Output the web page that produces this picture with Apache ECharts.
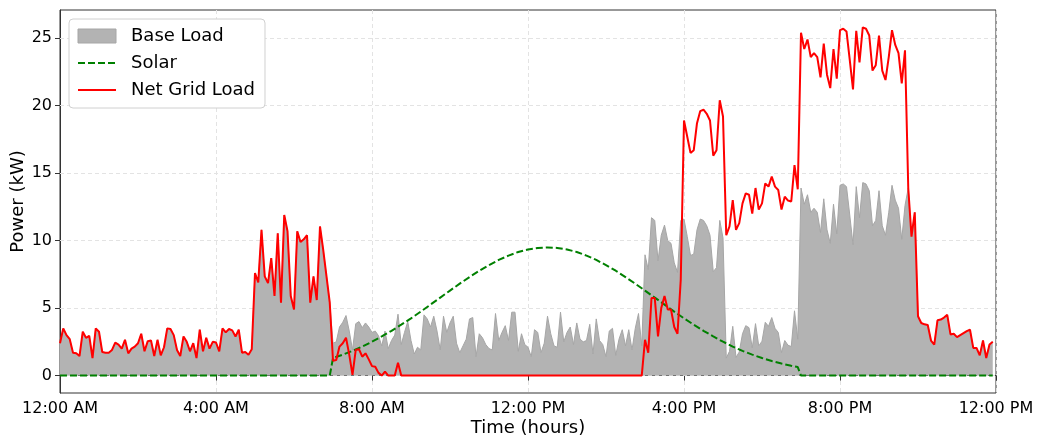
<!DOCTYPE html>
<html><head><meta charset="utf-8">
<script src="https://cdn.jsdelivr.net/npm/echarts@6/dist/echarts.min.js"></script>
<style>html,body{margin:0;padding:0;background:#fff}#c{width:1037px;height:437px}</style>
</head><body><div id="c"></div>
<script>
// 5-minute samples, 00:00 .. 23:55
const stepMinutes = 5;
const baseLoad = [
 2.4,3.5,3.0,2.7,1.7,1.65,1.45,3.25,2.8,2.95,
 1.3,3.5,3.25,1.75,1.7,1.7,1.9,2.45,2.3,2.0,
 2.65,1.65,2.0,2.15,2.4,3.1,1.8,2.55,2.6,1.45,
 2.65,1.5,2.1,3.5,3.45,3.0,1.9,1.45,2.9,2.5,
 1.8,2.4,1.3,3.4,1.8,2.8,2.0,2.5,2.45,1.8,
 3.5,3.2,3.45,3.35,2.9,3.4,1.7,1.75,1.55,1.95,
 7.6,6.9,10.8,7.35,6.85,8.7,5.9,10.55,5.4,11.9,
 10.7,5.9,4.9,10.7,9.9,10.1,10.4,5.4,7.35,5.6,
 11.05,9.3,7.35,5.4,
 2.4,2.5,3.6,3.95,4.45,3.3,1.9,3.85,4.0,3.55,
 3.9,3.6,3.2,3.3,2.95,2.2,3.3,2.0,2.6,3.0,4.55,
 2.3,3.2,4.0,2.6,1.6,
 2.1,1.9,4.5,4.2,3.6,4.4,3.3,1.9,4.4,3.2,
 3.9,4.4,2.4,1.7,2.2,2.7,4.2,4.3,1.4,3.1,
 2.8,2.3,2.0,1.9,4.6,2.6,3.2,3.7,2.6,4.7,
 4.7,1.8,3.1,2.3,2.1,1.4,3.4,3.2,1.7,2.4,
 4.4,3.1,2.2,2.1,4.7,2.5,3.2,3.6,2.3,3.9,
 2.7,2.5,2.6,3.8,1.6,4.2,2.6,2.3,1.4,3.3,
 3.5,1.5,2.7,3.4,2.2,3.4,1.9,3.5,4.6,2.2,
 8.95,7.85,11.7,11.5,8.5,10.4,11.15,10.0,9.8,8.35,7.65,11.5,
 11.6,10.3,8.9,9.0,10.8,11.6,11.5,11.1,10.4,7.7,8.0,11.5,10.2,1.3,
 1.8,3.65,1.35,1.75,3.1,3.7,3.55,2.05,3.85,2.2,2.55,3.95,3.65,4.3,3.5,3.2,1.7,2.6,2.25,2.15,4.8,2.7,
 13.9,12.7,13.4,12.1,12.4,12.1,10.6,13.1,10.8,9.8,12.7,10.5,14.1,14.2,14.0,11.9,9.7,14.0,
 11.7,14.3,14.2,13.7,11.1,11.5,13.7,11.1,10.4,12.1,14.1,13.0,12.4,10.1,12.6,13.9,10.3,12.1,
 4.4,3.9,3.8,3.75,2.6,2.3,4.1,4.15,4.3,4.5,3.05,3.1,2.85,3.0,3.15,3.3,3.4,2.05,2.05,1.5,2.6,1.3,2.3,2.5
];
const netGridLoad = [
 2.4,3.5,3.0,2.7,1.7,1.65,1.45,3.25,2.8,2.95,
 1.3,3.5,3.25,1.75,1.7,1.7,1.9,2.45,2.3,2.0,
 2.65,1.65,2.0,2.15,2.4,3.1,1.8,2.55,2.6,1.45,
 2.65,1.5,2.1,3.5,3.45,3.0,1.9,1.45,2.9,2.5,
 1.8,2.4,1.3,3.4,1.8,2.8,2.0,2.5,2.45,1.8,
 3.5,3.2,3.45,3.35,2.9,3.4,1.7,1.75,1.55,1.95,
 7.6,6.9,10.8,7.35,6.85,8.7,5.9,10.55,5.4,11.9,
 10.7,5.9,4.9,10.7,9.9,10.1,10.4,5.4,7.35,5.6,
 11.05,9.3,7.35,5.4,
 1.1,1.15,2.15,2.4,2.8,1.55,0.05,1.9,1.95,1.4,
 1.65,1.2,0.7,0.65,0.2,0,0.3,0,0,0,0.95,
 0,0,0,0,0,
 0,0,0,0,0,0,0,0,0,0,
 0,0,0,0,0,0,0,0,0,0,
 0,0,0,0,0,0,0,0,0,0,
 0,0,0,0,0,0,0,0,0,0,
 0,0,0,0,0,0,0,0,0,0,
 0,0,0,0,0,0,0,0,0,0,
 0,0,0,0,0,0,0,0,0,0,
 2.65,1.7,5.75,5.75,2.9,5.0,5.9,4.9,4.9,3.6,3.1,7.1,
 18.9,17.7,16.5,16.7,18.7,19.6,19.7,19.4,18.9,16.3,16.7,20.4,19.2,10.4,
 11.05,13.0,10.8,11.3,12.76,13.5,13.4,12.0,13.9,12.3,12.76,14.24,14.0,14.74,14.0,13.75,12.3,13.26,12.97,12.9,15.6,13.8,
 25.4,24.2,24.9,23.6,23.9,23.6,22.1,24.6,22.3,21.3,24.2,22.0,25.6,25.7,25.5,23.4,21.2,25.55,
 23.2,25.8,25.7,25.2,22.6,23.0,25.2,22.6,21.9,23.6,25.6,24.5,23.9,21.65,24.1,13.9,10.3,12.1,
 4.4,3.9,3.8,3.75,2.6,2.3,4.1,4.15,4.3,4.5,3.05,3.1,2.85,3.0,3.15,3.3,3.4,2.05,2.05,1.5,2.6,1.3,2.3,2.5
];
const solarHours = [0,6.917,7.0,7.25,7.5,7.75,8.0,8.25,8.5,8.75,9.0,9.25,9.5,9.75,10.0,10.25,10.5,10.75,11.0,11.25,11.5,11.75,12.0,12.25,12.5,
 12.75,13.0,13.25,13.5,13.75,14.0,14.25,14.5,14.75,15.0,15.25,15.5,15.75,16.0,16.25,16.5,16.75,17.0,17.25,17.5,17.75,18.0,18.25,18.5,18.75,18.917,19.0,23.917];
const solarKw = [0,0,1.30,1.55,1.83,2.15,2.51,2.90,3.32,3.77,4.24,4.74,5.26,5.78,6.30,6.81,7.30,7.77,8.19,8.57,8.89,9.16,9.35,9.46,9.50,
 9.46,9.35,9.16,8.89,8.57,8.19,7.77,7.30,6.81,6.30,5.78,5.26,4.74,4.24,3.77,3.32,2.90,2.51,2.15,1.83,1.55,1.30,1.08,0.89,0.73,0.63,0,0];
const xTickHours = [0,4,8,12,16,20,24];
const xTickLabels = ['12:00 AM','4:00 AM','8:00 AM','12:00 PM','4:00 PM','8:00 PM','12:00 PM'];
const yTicks = [0,5,10,15,20,25];
const yRange = [-1.29, 27.09];

const hourOf = i => i * stepMinutes / 60;
const baseData = baseLoad.map((v,i)=>[hourOf(i), v]);
const netData = netGridLoad.map((v,i)=>[hourOf(i), v]);
const solarData = solarHours.map((h,i)=>[h, solarKw[i]]);

const FONT = 'DejaVu Sans';
const chart = echarts.init(document.getElementById('c'), null, {renderer:'canvas'});
chart.setOption({
  animation:false,
  backgroundColor:'#fff',
  textStyle:{fontFamily:FONT},
  grid:{left:60,right:41,top:10,bottom:44,containLabel:false,outerBoundsMode:'none',
        show:true,borderColor:'#333',borderWidth:1,backgroundColor:'transparent'},
  legend:{
    orient:'vertical', left:69, top:19, z:10,
    backgroundColor:'#ffffff', borderColor:'#d0d0d0', borderWidth:1, borderRadius:4,
    padding:[8,10,9,8], itemGap:9, itemWidth:38, itemHeight:14,
    textStyle:{fontFamily:FONT,fontSize:18,color:'#000',padding:[0,0,0,10]},
    data:[
      {name:'Base Load',icon:'rect',itemStyle:{color:'#b3b3b3',borderColor:'#a6a6a6',borderWidth:1,opacity:1}},
      {name:'Solar',itemStyle:{opacity:0}},
      {name:'Net Grid Load',itemStyle:{opacity:0}}
    ]
  },
  xAxis:{
    type:'value', min:0, max:24, interval:4,
    name:'Time (hours)', nameLocation:'middle', nameGap:26, nameMoveOverlap:false,
    nameTextStyle:{fontFamily:FONT,fontSize:18,color:'#000'},
    axisLine:{show:true,lineStyle:{color:'#333',width:1}},
    axisTick:{show:true,length:5,lineStyle:{color:'#333'}},
    axisLabel:{fontFamily:FONT,fontSize:16,color:'#000',margin:8,
      formatter:v=>{const k=xTickHours.indexOf(v);return k>=0?xTickLabels[k]:'';}},
    splitLine:{show:true,lineStyle:{color:'#e3e3e3',type:[4,3],width:1}}
  },
  yAxis:{
    type:'value', min:yRange[0], max:yRange[1],
    name:'Power (kW)', nameLocation:'middle', nameGap:33, nameRotate:90, nameMoveOverlap:false,
    nameTextStyle:{fontFamily:FONT,fontSize:18,color:'#000'},
    axisLine:{show:true,lineStyle:{color:'#333',width:1}},
    axisTick:{show:true,length:5,lineStyle:{color:'#333'},customValues:yTicks},
    axisLabel:{fontFamily:FONT,fontSize:16,color:'#000',margin:8,customValues:yTicks},
    splitLine:{show:false}
  },
  series:[
    {name:'Base Load',type:'line',data:baseData,symbol:'none',z:2,
     itemStyle:{color:'#b3b3b3'},
     lineStyle:{color:'#a6a6a6',width:1},
     areaStyle:{color:'#b3b3b3',opacity:1},
     markLine:{silent:true,symbol:'none',label:{show:false},z:1,
       lineStyle:{color:'#e3e3e3',type:[4,3],width:1},
       data:yTicks.map(v=>({yAxis:v}))}
    },
    {name:'Solar',type:'line',data:solarData,symbol:'none',z:3,
     itemStyle:{color:'#008000'},
     lineStyle:{color:'#008000',width:2,type:[7,3]}},
    {name:'Net Grid Load',type:'line',data:netData,symbol:'none',z:4,
     itemStyle:{color:'#ff0000'},
     lineStyle:{color:'#ff0000',width:2}}
  ]
});
</script></body></html>
